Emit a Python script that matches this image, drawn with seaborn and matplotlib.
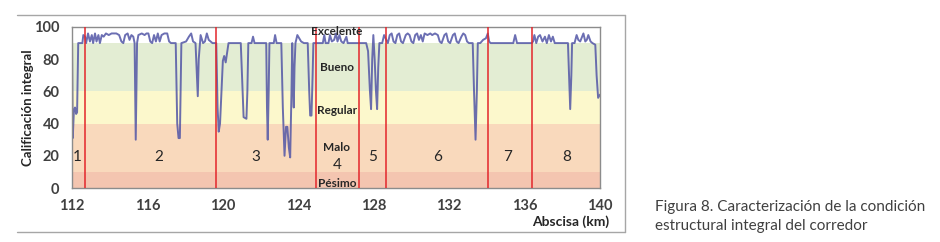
import matplotlib
matplotlib.use("Agg")
import matplotlib.pyplot as plt
import numpy as np
import pandas as pd
import seaborn as sns
from matplotlib.lines import Line2D

sns.set_style("white")
plt.rcParams['font.family'] = ['Lato', 'DejaVu Sans']

# abscisa (km) and integral rating
abscisa = [
    112.00, 112.04, 112.10, 112.16, 112.22, 112.27, 112.33, 112.55, 112.60, 112.69,
    112.75, 112.85, 112.95, 113.05, 113.12, 113.22, 113.30, 113.40, 113.48, 113.58,
    113.68, 113.80, 113.95, 114.10, 114.35, 114.50, 114.62, 114.72, 114.82, 114.95,
    115.05, 115.15, 115.25, 115.32, 115.38, 115.45, 115.52, 115.70, 115.85, 115.95,
    116.05, 116.15, 116.25, 116.35, 116.45, 116.55, 116.65, 116.75, 116.90, 117.05,
    117.15, 117.25, 117.50, 117.58, 117.65, 117.72, 117.80, 118.05, 118.20, 118.32,
    118.42, 118.55, 118.62, 118.67, 118.72, 118.82, 118.95, 119.05, 119.15, 119.25,
    119.35, 119.45, 119.65, 119.72, 119.78, 119.85,
    120.00, 120.07, 120.15, 120.30, 120.95, 121.05, 121.10, 121.25, 121.30, 121.35,
    121.52, 121.60, 121.68, 122.30, 122.34, 122.38, 122.43, 122.47, 122.70, 122.77,
    122.85, 123.10, 123.18, 123.27, 123.35, 123.42, 123.50, 123.57, 123.64, 123.68,
    123.73, 123.76, 123.80, 123.85, 123.95, 124.05, 124.15, 124.30, 124.50, 124.58,
    124.63, 124.70, 124.76, 124.80, 124.94,
    125.30, 125.38, 125.45, 125.60, 125.68, 125.78, 125.90, 126.00, 126.08, 126.18,
    126.28, 126.40, 126.55, 126.62, 127.00, 127.60, 127.70, 127.80, 127.86, 127.92,
    127.98, 128.05, 128.12, 128.18, 128.24, 128.30, 128.45, 128.55, 128.67,
    128.75, 128.85, 128.95, 129.05, 129.15, 129.25, 129.35, 129.45, 129.55, 129.70,
    129.80, 129.90, 130.00, 130.10, 130.20, 130.30, 130.40, 130.50, 130.60, 130.70,
    130.85, 131.00, 131.10, 131.25, 131.40, 131.50, 131.60, 131.75, 131.85, 131.95,
    132.05, 132.20, 132.30, 132.40, 132.50, 132.65, 132.75, 132.85, 132.95, 133.05,
    133.25, 133.32, 133.40, 133.47, 133.52, 133.65, 133.80, 133.95, 134.05,
    134.12, 134.20, 135.40, 135.50, 135.60, 136.38,
    136.45, 136.52, 136.62, 136.72, 136.82, 136.95, 137.08, 137.18, 137.29, 137.40,
    137.50, 137.60, 138.30, 138.36, 138.42, 138.48, 138.52, 138.65, 138.76, 138.85,
    138.95, 139.05, 139.12, 139.22, 139.30, 139.38, 139.50, 139.60, 139.75, 139.82,
    139.90, 140.00,
]
calificacion = [
    95, 31, 48, 50, 46, 47, 90, 90, 95, 94,
    90, 96, 91, 95, 90, 96, 91, 95, 90, 95,
    94, 96, 95, 96, 96, 95, 91, 90, 95, 96,
    92, 95, 94, 90, 30, 90, 95, 96, 95, 96,
    96, 91, 90, 95, 91, 96, 91, 95, 96, 96,
    91, 90, 90, 40, 31, 31, 90, 91, 94, 96,
    91, 90, 70, 57, 80, 95, 90, 91, 96, 92,
    91, 90, 90, 50, 35, 40,
    79, 82, 78, 90, 90, 60, 44, 43, 60, 90,
    90, 94, 90, 90, 50, 30, 60, 90, 90, 95,
    90, 90, 50, 20, 38, 38, 25, 19, 60, 90,
    60, 50, 75, 90, 95, 93, 91, 90, 90, 60,
    45, 45, 70, 90, 90,
    90, 95, 90, 90, 95, 91, 92, 96, 91, 95,
    91, 90, 94, 90, 90, 90, 85, 60, 49, 80,
    95, 80, 60, 49, 75, 90, 90, 95, 92,
    90, 95, 96, 91, 90, 95, 96, 91, 90, 95,
    96, 95, 91, 90, 95, 96, 92, 95, 91, 96,
    95, 96, 95, 96, 95, 91, 90, 95, 96, 91,
    90, 95, 96, 91, 90, 94, 96, 95, 91, 90,
    90, 60, 30, 60, 90, 90, 92, 93, 96,
    91, 90, 90, 95, 90, 90,
    91, 95, 90, 94, 95, 91, 94, 90, 95, 91,
    94, 90, 90, 70, 49, 70, 90, 90, 95, 92,
    91, 94, 96, 91, 92, 95, 91, 90, 89, 70,
    56, 58,
]

# condition bands
bandas = ["Pésimo", "Malo", "Regular", "Bueno", "Excelente"]
banda_lim = [(0, 10), (10, 40), (40, 60), (60, 90), (90, 100)]
banda_color = ["#f4c5b0", "#f9d9bc", "#fcf8cc", "#e3edd3", "#ffffff"]

# homogeneous sections
cortes = [112.69, 119.65, 124.94, 127.22, 128.67, 134.07, 136.38]
tramos = ["1", "2", "3", "4", "5", "6", "7", "8"]
tramo_x = [112.3, 116.6, 121.75, 126.05, 127.95, 131.4, 135.1, 138.25]

df = pd.DataFrame({"Abscisa": abscisa, "Calificacion": calificacion})

fig = plt.figure(figsize=(9.4, 2.42), dpi=100)
ax = fig.add_axes([72 / 940, 1 - 188 / 242, 528 / 940, 161 / 242])

for (lo, hi), c in zip(banda_lim, banda_color):
    ax.axhspan(lo, hi, color=c, lw=0, zorder=0)

sns.lineplot(data=df, x="Abscisa", y="Calificacion", ax=ax, color="#5256a6",
             alpha=0.85, lw=1.4, zorder=2)

for c in cortes:
    ax.axvline(c, color="#e3262b", lw=1.1, zorder=3)

ax.set_xlim(112, 140)
ax.set_ylim(0, 100)
ax.set_xticks(range(112, 141, 4))
ax.set_yticks(range(0, 101, 20))
ax.tick_params(axis="both", colors="#7f7f7f", length=4, width=1, direction="out",
               labelsize=10.5, labelcolor="#404040")
ax.tick_params(axis="x", pad=4)
ax.tick_params(axis="y", pad=5)
for lab in ax.get_xticklabels() + ax.get_yticklabels():
    lab.set_fontweight("bold")
for s in ax.spines.values():
    s.set_color("#8c8c8c")
    s.set_linewidth(1)

ax.set_xlabel("")
ax.set_ylabel("")
fig.text(28 / 940, 1 - 108 / 242, "Calificación integral", rotation=90,
         ha="center", va="center", fontsize=9.5, fontweight="bold", color="#262626")
fig.text(609 / 940, 1 - 222 / 242, "Abscisa (km)", ha="right", va="center",
         fontsize=10, fontweight="bold", color="#262626")

# band names
band_y = [2.5, 25, 48, 75, 97.5]
for name, y in zip(bandas, band_y):
    ax.text(126.05, y, name, ha="center", va="center", fontsize=8.5,
            fontweight="bold", color="#262626", zorder=4)

for t, x in zip(tramos, tramo_x):
    y = 14 if t == "4" else 19.5
    ax.text(x, y, t, ha="center", va="center", fontsize=11, color="#262626", zorder=4)

# outer frame
frame = "#a6a6a6"
fig.add_artist(Line2D([17 / 940, 625 / 940], [1 - 15 / 242, 1 - 15 / 242], color=frame, lw=1))
fig.add_artist(Line2D([17 / 940, 625 / 940], [1 - 232 / 242, 1 - 232 / 242], color=frame, lw=1))
fig.add_artist(Line2D([625 / 940, 625 / 940], [1 - 15 / 242, 1 - 232 / 242], color=frame, lw=1))

caption = ["Figura 8. Caracterización de la condición", "estructural integral del corredor"]
for i, line in enumerate(caption):
    fig.text(655 / 940, 1 - (207 + 19 * i) / 242, line, ha="left", va="center",
             fontsize=11, color="#404040")

fig.savefig("out.png", dpi=100)
